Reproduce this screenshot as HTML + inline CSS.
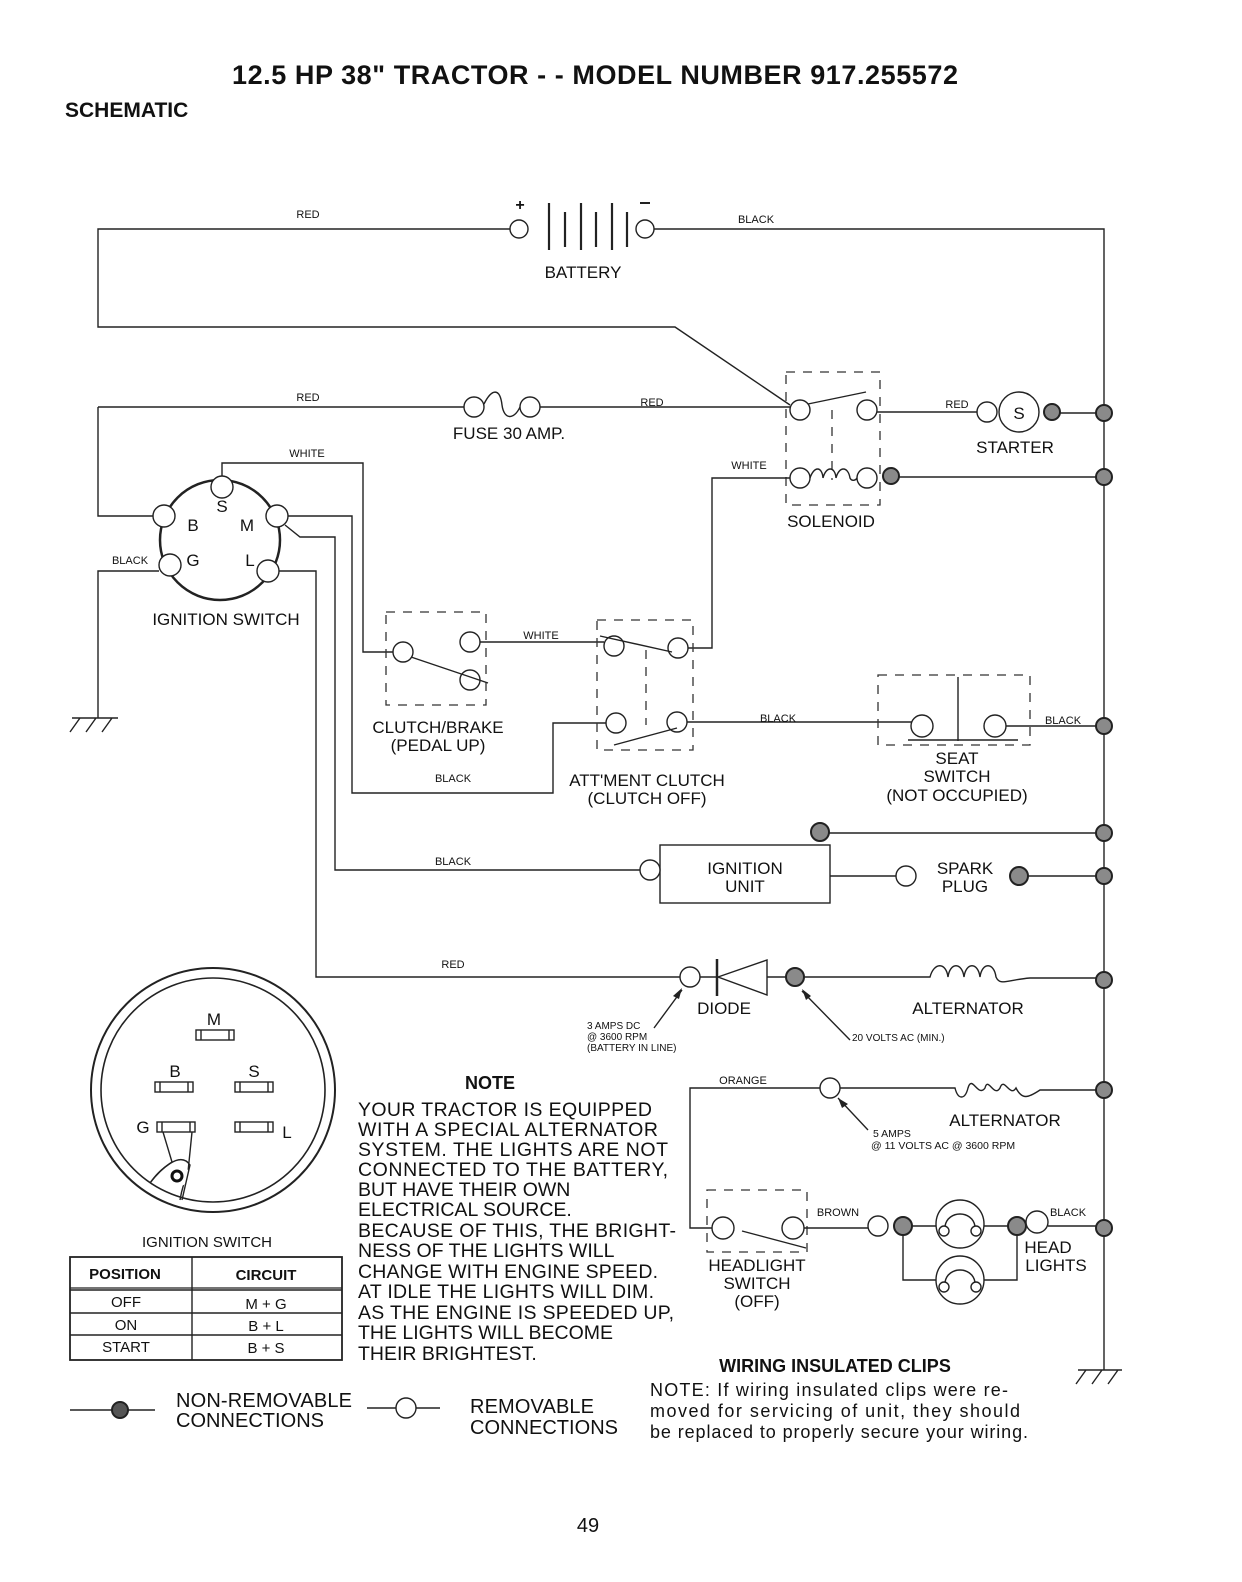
<!DOCTYPE html>
<html><head><meta charset="utf-8"><style>
html,body{margin:0;padding:0;background:#fff}
svg{display:block}
text{font-family:"Liberation Sans",Arial,sans-serif;fill:#111}
.s{font-size:11px}
.m{font-size:17px}
.n{font-size:19.5px}
</style></head><body>
<svg width="1242" height="1582" viewBox="0 0 1242 1582" xmlns="http://www.w3.org/2000/svg">
<defs>
<style>
.w{fill:none;stroke:#222;stroke-width:1.4}
.d{fill:none;stroke:#333;stroke-width:1.3;stroke-dasharray:9 8}
.o{fill:#fff;stroke:#222;stroke-width:1.4}
.k{fill:#8a8a8a;stroke:#222;stroke-width:2}
</style>
</defs>
<text x="232" y="84" textLength="726" font-size="27" font-weight="bold">12.5 HP 38" TRACTOR - - MODEL NUMBER 917.255572</text>
<text x="65" y="117" font-size="21" font-weight="bold">SCHEMATIC</text>

<!-- battery -->
<path class="w" d="M510 229 H98 V327 H675 L790 405"/>
<path class="w" d="M654 229 H1104 V1370"/>
<circle class="o" cx="519" cy="229" r="9"/>
<circle class="o" cx="645" cy="229" r="9"/>
<g stroke="#222" stroke-width="2.2">
<line x1="549" y1="203" x2="549" y2="250"/><line x1="565" y1="212" x2="565" y2="247"/>
<line x1="581" y1="203" x2="581" y2="250"/><line x1="596" y1="212" x2="596" y2="247"/>
<line x1="612" y1="203" x2="612" y2="250"/><line x1="627" y1="212" x2="627" y2="247"/>
</g>
<text x="520" y="210" text-anchor="middle" font-size="16" font-weight="bold">+</text>
<line x1="640" y1="203" x2="650" y2="203" stroke="#222" stroke-width="2"/>
<text x="583" y="278" text-anchor="middle" class="m">BATTERY</text>
<text x="308" y="218" text-anchor="middle" class="s">RED</text>
<text x="756" y="223" text-anchor="middle" class="s">BLACK</text>

<!-- fuse row -->
<path class="w" d="M98 407 H464 M540 407 H790 M98 407 V516 H153"/>
<circle class="o" cx="474" cy="407" r="10"/>
<circle class="o" cx="530" cy="407" r="10"/>
<path class="w" d="M484 404 C492 388 500 388 502 405 C504 420 514 420 520 407"/>
<text x="509" y="439" text-anchor="middle" class="m">FUSE 30 AMP.</text>
<text x="308" y="401" text-anchor="middle" class="s">RED</text>
<text x="652" y="406" text-anchor="middle" class="s">RED</text>

<!-- solenoid -->
<rect class="d" x="786" y="372" width="94" height="133"/>
<line class="d" x1="832" y1="410" x2="832" y2="480"/>
<circle class="o" cx="800" cy="410" r="10"/>
<circle class="o" cx="867" cy="410" r="10"/>
<line class="w" x1="808" y1="404" x2="866" y2="392"/>
<circle class="o" cx="800" cy="478" r="10"/>
<circle class="o" cx="867" cy="478" r="10"/>
<path class="w" d="M810 478 C814 466 822 466 823 478 C826 466 835 466 836 478 C839 466 848 466 850 478 C852 482 856 480 857 478"/>
<circle class="k" cx="891" cy="476" r="8"/>
<text x="831" y="527" text-anchor="middle" class="m">SOLENOID</text>
<!-- starter -->
<path class="w" d="M877 412 H977 M1060 413 H1096 M899 477 H1096"/>
<circle class="o" cx="987" cy="412" r="10"/>
<circle class="o" cx="1019" cy="412" r="20"/>
<text x="1019" y="419" text-anchor="middle" font-size="17">S</text>
<circle class="k" cx="1052" cy="412" r="8"/>
<circle class="k" cx="1104" cy="413" r="8"/>
<circle class="k" cx="1104" cy="477" r="8"/>
<text x="957" y="408" text-anchor="middle" class="s">RED</text>
<text x="1015" y="453" text-anchor="middle" class="m">STARTER</text>

<!-- white wire solenoid to att clutch -->
<path class="w" d="M790 478 H712 V648 H688"/>
<text x="749" y="469" text-anchor="middle" class="s">WHITE</text>

<!-- ignition switch schematic -->
<circle cx="220" cy="540" r="60" fill="none" stroke="#222" stroke-width="2.5"/>
<circle class="o" cx="222" cy="487" r="11"/>
<circle class="o" cx="164" cy="516" r="11"/>
<circle class="o" cx="277" cy="516" r="11"/>
<circle class="o" cx="170" cy="565" r="11"/>
<circle class="o" cx="268" cy="571" r="11"/>
<text x="222" y="512" text-anchor="middle" font-size="17">S</text>
<text x="193" y="531" text-anchor="middle" font-size="17">B</text>
<text x="247" y="531" text-anchor="middle" font-size="17">M</text>
<text x="193" y="566" text-anchor="middle" font-size="17">G</text>
<text x="250" y="566" text-anchor="middle" font-size="17">L</text>
<text x="226" y="625" text-anchor="middle" class="m">IGNITION SWITCH</text>
<path class="w" d="M222 476 V463 H363 V652 H393"/>
<text x="307" y="457" text-anchor="middle" class="s">WHITE</text>
<path class="w" d="M288 516 H352 V793 H553 V723 H606"/>
<path class="w" d="M285 525 L300 537 H335 V870 H640"/>
<path class="w" d="M279 571 H316 V977 H680"/>
<path class="w" d="M159 571 H98 V718"/>
<text x="130" y="564" text-anchor="middle" class="s">BLACK</text>
<path class="w" d="M72 718 H118 M80 718 L70 732 M96 718 L86 732 M112 718 L102 732"/>

<!-- clutch brake -->
<rect class="d" x="386" y="612" width="100" height="93"/>
<circle class="o" cx="403" cy="652" r="10"/>
<circle class="o" cx="470" cy="642" r="10"/>
<circle class="o" cx="470" cy="680" r="10"/>
<line class="w" x1="411" y1="657" x2="488" y2="683"/>
<path class="w" d="M480 642 H604"/>
<text x="541" y="639" text-anchor="middle" class="s">WHITE</text>
<text x="438" y="733" text-anchor="middle" class="m">CLUTCH/BRAKE</text>
<text x="438" y="751" text-anchor="middle" class="m">(PEDAL UP)</text>
<text x="453" y="782" text-anchor="middle" class="s">BLACK</text>

<!-- att clutch -->
<rect class="d" x="597" y="620" width="96" height="130"/>
<line class="d" x1="646" y1="650" x2="646" y2="725"/>
<circle class="o" cx="614" cy="646" r="10"/>
<circle class="o" cx="678" cy="648" r="10"/>
<line class="w" x1="600" y1="636" x2="672" y2="652"/>
<circle class="o" cx="616" cy="723" r="10"/>
<circle class="o" cx="677" cy="722" r="10"/>
<line class="w" x1="614" y1="745" x2="677" y2="728"/>
<text x="647" y="786" text-anchor="middle" class="m">ATT'MENT CLUTCH</text>
<text x="647" y="804" text-anchor="middle" class="m">(CLUTCH OFF)</text>

<!-- seat switch -->
<path class="w" d="M687 722 H912 M1005 726 H1096"/>
<text x="778" y="722" text-anchor="middle" class="s">BLACK</text>
<rect class="d" x="878" y="675" width="152" height="70"/>
<line class="w" x1="958" y1="677" x2="958" y2="741"/>
<line class="w" x1="908" y1="740" x2="1018" y2="740"/>
<circle class="o" cx="922" cy="726" r="11"/>
<circle class="o" cx="995" cy="726" r="11"/>
<circle class="k" cx="1104" cy="726" r="8"/>
<text x="1063" y="724" text-anchor="middle" class="s">BLACK</text>
<text x="957" y="764" text-anchor="middle" class="m">SEAT</text>
<text x="957" y="782" text-anchor="middle" class="m">SWITCH</text>
<text x="957" y="801" text-anchor="middle" class="m">(NOT OCCUPIED)</text>

<!-- ignition unit -->
<text x="453" y="865" text-anchor="middle" class="s">BLACK</text>
<rect class="w" x="660" y="845" width="170" height="58"/>
<circle class="o" cx="650" cy="870" r="10"/>
<text x="745" y="874" text-anchor="middle" class="m">IGNITION</text>
<text x="745" y="892" text-anchor="middle" class="m">UNIT</text>
<path class="w" d="M830 876 H896 M1027 876 H1096 M828 833 H1096"/>
<circle class="o" cx="906" cy="876" r="10"/>
<circle class="k" cx="820" cy="832" r="9"/>
<circle class="k" cx="1104" cy="833" r="8"/>
<circle class="k" cx="1019" cy="876" r="9"/>
<circle class="k" cx="1104" cy="876" r="8"/>
<text x="965" y="874" text-anchor="middle" class="m">SPARK</text>
<text x="965" y="892" text-anchor="middle" class="m">PLUG</text>

<!-- diode -->
<text x="453" y="968" text-anchor="middle" class="s">RED</text>
<circle class="o" cx="690" cy="977" r="10"/>
<path class="w" d="M700 977 H716 M767 977 H786 M804 977 H930 C934 962 946 962 948 977 C950 962 962 962 964 977 C966 962 978 962 980 977 C982 962 994 962 996 977 C1000 986 1006 980 1030 978 H1096"/>
<line x1="717" y1="959" x2="717" y2="996" stroke="#222" stroke-width="2.5"/>
<path class="w" d="M718 977 L767 960 V995 Z"/>
<circle class="k" cx="795" cy="977" r="9"/>
<circle class="k" cx="1104" cy="980" r="8"/>
<text x="724" y="1014" text-anchor="middle" class="m">DIODE</text>
<text x="968" y="1014" text-anchor="middle" class="m">ALTERNATOR</text>
<path class="w" d="M654 1028 L682 990 M850 1040 L802 991"/>
<path d="M682 988 L673 996 L679 999Z M802 989 L806 1000 L811 996Z" fill="#222"/>
<text x="587" y="1029" font-size="10">3 AMPS DC</text>
<text x="587" y="1040" font-size="10">@ 3600 RPM</text>
<text x="587" y="1051" font-size="10">(BATTERY IN LINE)</text>
<text x="852" y="1041" font-size="10">20 VOLTS AC (MIN.)</text>

<!-- orange alternator -->
<path class="w" d="M820 1088 H690 V1228 H713 M840 1088 H955 C958 1100 965 1100 968 1088 C972 1074 978 1098 985 1088 C988 1076 994 1098 1000 1088 C1004 1076 1010 1098 1016 1088 C1022 1100 1028 1098 1040 1090 H1096"/>
<circle class="o" cx="830" cy="1088" r="10"/>
<circle class="k" cx="1104" cy="1090" r="8"/>
<text x="743" y="1084" text-anchor="middle" class="s">ORANGE</text>
<path class="w" d="M838 1098 L868 1130"/>
<path d="M838 1098 L842 1108 L848 1104Z" fill="#222"/>
<text x="1005" y="1126" text-anchor="middle" class="m">ALTERNATOR</text>
<text x="873" y="1137" font-size="10.5">5 AMPS</text>
<text x="871" y="1149" font-size="10.5">@ 11 VOLTS AC @ 3600 RPM</text>

<!-- headlight switch -->
<rect class="d" x="707" y="1190" width="100" height="62"/>
<circle class="o" cx="723" cy="1228" r="11"/>
<circle class="o" cx="793" cy="1228" r="11"/>
<line class="w" x1="742" y1="1231" x2="806" y2="1248"/>
<text x="757" y="1271" text-anchor="middle" class="m">HEADLIGHT</text>
<text x="757" y="1289" text-anchor="middle" class="m">SWITCH</text>
<text x="757" y="1307" text-anchor="middle" class="m">(OFF)</text>
<path class="w" d="M804 1228 H868 M910 1226 H936 M984 1226 H1010 M1048 1226 H1096 M903 1226 V1280 H936 M984 1280 H1017 V1226"/>
<text x="838" y="1216" text-anchor="middle" class="s">BROWN</text>
<circle class="o" cx="878" cy="1226" r="10"/>
<circle class="k" cx="903" cy="1226" r="9"/>
<circle class="o" cx="960" cy="1224" r="24"/>
<circle class="o" cx="944" cy="1231" r="5"/><circle class="o" cx="976" cy="1231" r="5"/>
<path class="w" d="M945 1226 C948 1210 972 1210 975 1226"/>
<circle class="o" cx="960" cy="1280" r="24"/>
<circle class="o" cx="944" cy="1287" r="5"/><circle class="o" cx="976" cy="1287" r="5"/>
<path class="w" d="M945 1282 C948 1266 972 1266 975 1282"/>
<circle class="k" cx="1017" cy="1226" r="9"/>
<circle class="o" cx="1037" cy="1222" r="11"/>
<circle class="k" cx="1104" cy="1228" r="8"/>
<text x="1068" y="1216" text-anchor="middle" class="s">BLACK</text>
<text x="1048" y="1253" text-anchor="middle" class="m">HEAD</text>
<text x="1056" y="1271" text-anchor="middle" class="m">LIGHTS</text>
<path class="w" d="M1078 1370 H1122 M1086 1370 L1076 1384 M1102 1370 L1092 1384 M1118 1370 L1108 1384"/>

<!-- ignition switch face -->
<circle cx="213" cy="1090" r="122" fill="none" stroke="#222" stroke-width="2"/>
<circle cx="213" cy="1090" r="112" fill="none" stroke="#222" stroke-width="1.6"/>
<g class="w">
<rect class="w" x="196" y="1030" width="38" height="10"/><line class="w" x1="201" y1="1030" x2="201" y2="1040"/><line class="w" x1="229" y1="1030" x2="229" y2="1040"/>
<rect class="w" x="155" y="1082" width="38" height="10"/><line class="w" x1="160" y1="1082" x2="160" y2="1092"/><line class="w" x1="188" y1="1082" x2="188" y2="1092"/>
<rect class="w" x="235" y="1082" width="38" height="10"/><line class="w" x1="240" y1="1082" x2="240" y2="1092"/><line class="w" x1="268" y1="1082" x2="268" y2="1092"/>
<rect class="w" x="157" y="1122" width="38" height="10"/><line class="w" x1="162" y1="1122" x2="162" y2="1132"/><line class="w" x1="190" y1="1122" x2="190" y2="1132"/>
<rect class="w" x="235" y="1122" width="38" height="10"/><line class="w" x1="240" y1="1122" x2="240" y2="1132"/><line class="w" x1="268" y1="1122" x2="268" y2="1132"/>
</g>
<path class="w" d="M163 1132 L172 1162 C160 1170 155 1176 150 1183 M192 1132 L188 1172 C185 1180 182 1188 180 1200"/>
<circle cx="177" cy="1175" r="12" fill="#fff" stroke="none"/>
<path class="w" d="M150 1183 C160 1170 180 1150 190 1165 L182 1200"/>
<circle cx="177" cy="1176" r="5" fill="none" stroke="#111" stroke-width="3"/>
<text x="214" y="1025" text-anchor="middle" class="m">M</text>
<text x="175" y="1077" text-anchor="middle" class="m">B</text>
<text x="254" y="1077" text-anchor="middle" class="m">S</text>
<text x="143" y="1133" text-anchor="middle" class="m">G</text>
<text x="287" y="1138" text-anchor="middle" class="m">L</text>
<text x="207" y="1247" text-anchor="middle" font-size="15">IGNITION SWITCH</text>

<!-- table -->
<rect x="70" y="1257" width="272" height="103" fill="none" stroke="#222" stroke-width="1.8"/>
<path class="w" d="M192 1257 V1360 M70 1290 H342 M70 1313 H342 M70 1335 H342"/>
<path d="M70 1288 H342" stroke="#222" stroke-width="1.2"/>
<text x="125" y="1279" text-anchor="middle" font-size="15" font-weight="bold">POSITION</text>
<text x="266" y="1280" text-anchor="middle" font-size="15" font-weight="bold">CIRCUIT</text>
<text x="126" y="1307" text-anchor="middle" font-size="15">OFF</text>
<text x="266" y="1309" text-anchor="middle" font-size="15">M + G</text>
<text x="126" y="1330" text-anchor="middle" font-size="15">ON</text>
<text x="266" y="1331" text-anchor="middle" font-size="15">B + L</text>
<text x="126" y="1352" text-anchor="middle" font-size="15">START</text>
<text x="266" y="1353" text-anchor="middle" font-size="15">B + S</text>

<!-- note -->
<text x="490" y="1089" text-anchor="middle" font-size="18" font-weight="bold">NOTE</text>
<g class="n">
<text x="358" y="1116" textLength="294" class="n">YOUR TRACTOR IS EQUIPPED</text>
<text x="358" y="1136" textLength="300" class="n">WITH A SPECIAL ALTERNATOR</text>
<text x="358" y="1156" textLength="310" class="n">SYSTEM.  THE LIGHTS ARE NOT</text>
<text x="358" y="1176" textLength="310" class="n">CONNECTED TO  THE BATTERY,</text>
<text x="358" y="1196" class="n">BUT HAVE THEIR OWN</text>
<text x="358" y="1216" class="n">ELECTRICAL SOURCE.</text>
<text x="358" y="1237" textLength="318" class="n">BECAUSE OF THIS, THE BRIGHT-</text>
<text x="358" y="1257" class="n">NESS OF THE LIGHTS WILL</text>
<text x="358" y="1278" textLength="300" class="n">CHANGE WITH ENGINE SPEED.</text>
<text x="358" y="1298" textLength="296" class="n">AT IDLE THE LIGHTS WILL DIM.</text>
<text x="358" y="1319" textLength="316" class="n">AS THE ENGINE IS SPEEDED UP,</text>
<text x="358" y="1339" class="n">THE LIGHTS WILL BECOME</text>
<text x="358" y="1360" class="n">THEIR BRIGHTEST.</text>
</g>

<!-- legend -->
<path class="w" d="M70 1410 H155 M367 1408 H440"/>
<circle cx="120" cy="1410" r="8" fill="#555" stroke="#222" stroke-width="2"/>
<circle class="o" cx="406" cy="1408" r="10"/>
<text x="176" y="1407" font-size="20" textLength="176">NON-REMOVABLE</text>
<text x="176" y="1427" font-size="20" textLength="148">CONNECTIONS</text>
<text x="470" y="1413" font-size="20" textLength="124">REMOVABLE</text>
<text x="470" y="1434" font-size="20" textLength="148">CONNECTIONS</text>
<text x="835" y="1372" text-anchor="middle" font-size="18" font-weight="bold">WIRING INSULATED CLIPS</text>
<text x="650" y="1396" font-size="18" textLength="358">NOTE: If wiring insulated clips  were  re-</text>
<text x="650" y="1417" font-size="18" textLength="370">moved  for servicing  of  unit,  they should</text>
<text x="650" y="1438" font-size="18" textLength="378">be replaced to properly secure your wiring.</text>
<text x="588" y="1532" text-anchor="middle" font-size="20">49</text>
</svg>
</body></html>
